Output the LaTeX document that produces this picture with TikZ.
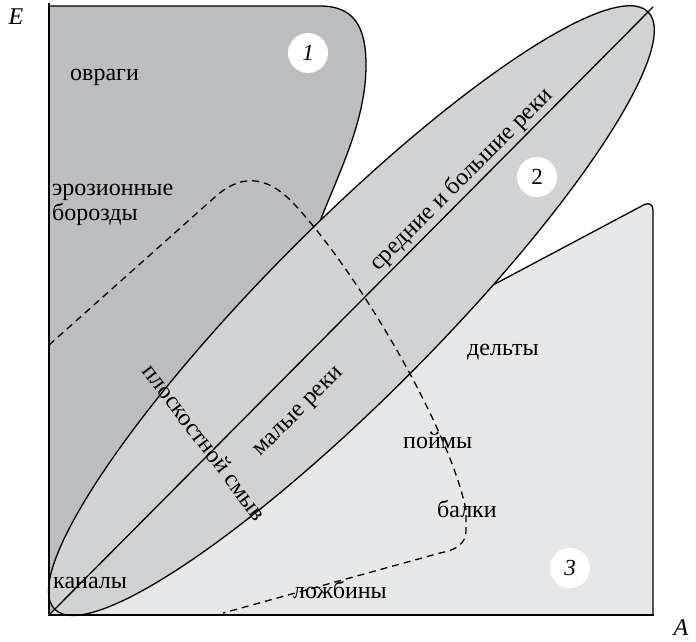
\documentclass[tikz,border=0pt]{standalone}
\usepackage{fontspec}
\setmainfont{Liberation Serif}
\definecolor{rone}{HTML}{BCBDC0}
\definecolor{rtwo}{HTML}{D1D2D4}
\definecolor{rthree}{HTML}{E6E7E8}
\begin{document}
\begin{tikzpicture}[x=1pt,y=-1pt,
  lbl/.style={font=\fontsize{24}{26}\selectfont, inner sep=0pt},
  edge/.style={line width=1.3pt, line join=round},
  axisline/.style={line width=1.8pt},
  dashline/.style={line width=1.3pt, dash pattern=on 7pt off 5pt},
  numdisc/.style={circle, fill=white, minimum size=40pt, inner sep=0pt, font=\fontsize{23}{25}\selectfont}]
\useasboundingbox (0,0) rectangle (696,641);
% region 3
\fill[rthree] (493,285) -- (351.4,310.6) -- (49,615) -- (653,615) [rounded corners=10pt]-- (653,200) -- (493,285);
% region 1
\fill[rone] (49,615) -- (49,6) -- (320,6) .. controls (355,6) and (366,28) .. (366,65) .. controls (366,120) and (340,170) .. (320.3,220.6) -- (351.4,310.6) -- cycle;
\draw[edge] (49,6) -- (320,6) .. controls (355,6) and (366,28) .. (366,65) .. controls (366,120) and (340,170) .. (320.3,220.6);
\draw[edge] (493,285) [rounded corners=10pt]-- (653,200) -- (653,615);
% region 2 ellipse
\draw[edge, fill=rtwo, rotate around={45.2:(351.4,310.6)}] (351.4,310.6) ellipse [x radius=421pt, y radius=86pt];
\coordinate (o) at (49,615);
\coordinate (d) at (653,7);
\draw[edge] (o) -- (d);
% dashed boundary
\draw[dashline] (49,345) -- (215,197) .. controls (238,176) and (265,172) .. (295,205) .. controls (360,275) and (450,430) .. (466,510) -- (466,530) .. controls (466,545) and (455,550) .. (440,553) -- (223,613);
% axes
\draw[axisline] (49,3) -- (o) -- (654,615);
% numbers
\node[numdisc] (n1) at (308,53) {\textit{1}};
\node[numdisc] (n2) at (537,177) {2};
\node[numdisc] (n3) at (570,568) {\textit{3}};
% labels
\node[lbl, anchor=base] (E) at (16,24) {\textit{E}};
\node[lbl, anchor=base] (A) at (681,635) {\textit{A}};
\node[lbl, anchor=base west] (ovr) at (70,80) {овраги};
\node[lbl, anchor=base west] (ero) at (52,195) {эрозионные};
\node[lbl, anchor=base west] (bor) at (52,220) {борозды};
\node[lbl, anchor=base, rotate=45] (sbr) at (466,184) {средние и большие реки};
\node[lbl, rotate=45] (mr) at (300,413) {малые реки};
\node[lbl, rotate=-53] (ps) at (205,442) {плоскостной смыв};
\node[lbl, anchor=base west] (kan) at (53,588) {каналы};
\node[lbl, anchor=base west] (lozh) at (293,598) {ложбины};
\node[lbl, anchor=base west] (del) at (467,355) {дельты};
\node[lbl, anchor=base west] (poj) at (403,448) {поймы};
\node[lbl, anchor=base west] (bal) at (437,517) {балки};
\end{tikzpicture}
\end{document}
